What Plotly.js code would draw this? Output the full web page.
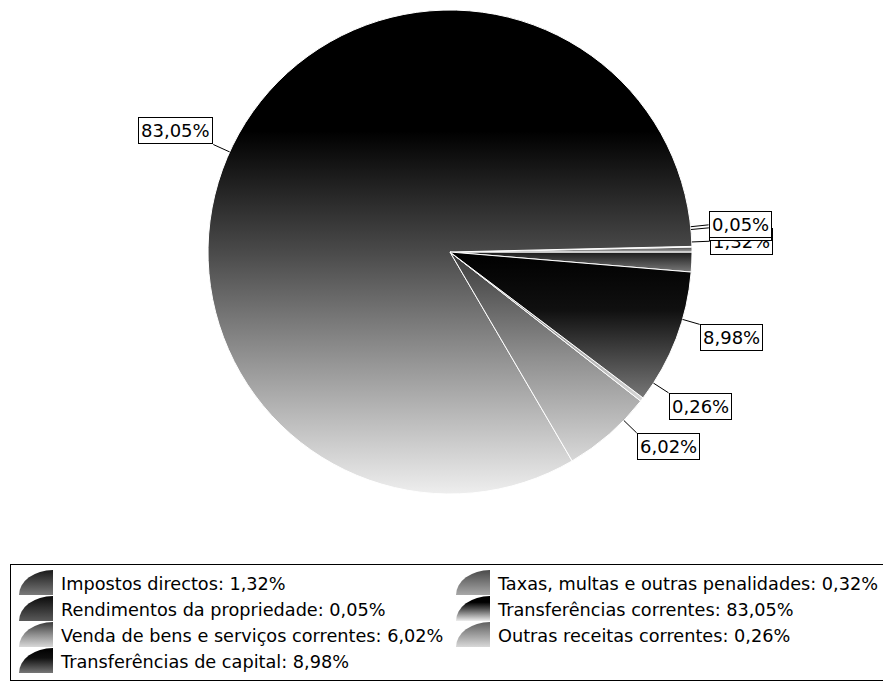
<!DOCTYPE html>
<html><head><meta charset="utf-8">
<script src="https://cdn.plot.ly/plotly-3.0.1.min.js"></script>
<style>html,body{margin:0;padding:0;background:#fff}#chart{width:883px;height:696px}</style>
</head><body><div id="chart"></div>
<script>
// ---- data ----
const categories = [
  'Impostos directos',
  'Taxas, multas e outras penalidades',
  'Rendimentos da propriedade',
  'Transferências correntes',
  'Venda de bens e serviços correntes',
  'Outras receitas correntes',
  'Transferências de capital'
];
const values = [1.32, 0.32, 0.05, 83.05, 6.02, 0.26, 8.98];

// ---- style ----
const W = 883, H = 696;
const CX = 450, CY = 252, R = 242;
const FONT = 'DejaVu Sans, Verdana, sans-serif';
const baseColors = ['#333', '#666', '#222', '#3a3a3a', '#888', '#aaa', '#444'];
const gradStops = [
  [[0,'#1a1a1a'],[1,'#7a7a7a']],
  [[0,'#4a4a4a'],[1,'#a8a8a8']],
  [[0,'#0a0a0a'],[1,'#5a5a5a']],
  [[0,'#000'],[0.25,'#000'],[0.5,'#4a4a4a'],[0.75,'#9c9c9c'],[1,'#eeeeee']],
  [[0,'#3a3a3a'],[0.5,'#8e8e8e'],[1,'#d8d8d8']],
  [[0,'#606060'],[1,'#d8d8d8']],
  [[0,'#000'],[0.4,'#101010'],[1,'#777']]
];

const fmt = v => v.toFixed(2).replace('.', ',') + '%';
const legendLabels = categories.map((c, i) => c + ': ' + fmt(values[i]));

const total = values.reduce((a, b) => a + b, 0);
const annotations = [];
let start = 0;
values.forEach((v, i) => {
  const frac = v / total * 360;
  const mid = (start + frac / 2) * Math.PI / 180;
  start += frac;
  const c = Math.cos(mid), s = Math.sin(mid);
  const px = CX + R * c, py = CY - R * s;
  const d = 18;
  annotations.push({
    x: px / W, y: 1 - py / H, xref: 'paper', yref: 'paper',
    ax: d * c, ay: -d * s,
    xanchor: c >= 0 ? 'left' : 'right',
    yanchor: Math.abs(s) < 0.15 ? 'middle' : (s > 0 ? 'bottom' : 'top'),
    text: fmt(v), showarrow: true, arrowhead: 0, arrowwidth: 1, arrowcolor: '#000', standoff: 0,
    bordercolor: '#000', borderwidth: 1, borderpad: 2, bgcolor: '#fff',
    font: {family: FONT, size: 18, color: '#000'}
  });
});

const trace = {
  type: 'pie',
  labels: legendLabels,
  values: values,
  sort: false,
  direction: 'counterclockwise',
  rotation: 90,
  textinfo: 'none',
  hoverinfo: 'none',
  domain: {x: [(CX - R) / W, (CX + R) / W], y: [1 - (CY + R) / H, 1 - (CY - R) / H]},
  marker: {colors: baseColors, line: {color: '#fff', width: 1}}
};

const layout = {
  width: W, height: H,
  margin: {l: 0, r: 0, t: 0, b: 0, pad: 0, autoexpand: false},
  paper_bgcolor: '#fff',
  showlegend: true,
  legend: {
    orientation: 'h', x: 10 / W, y: 1 - 564 / H, xanchor: 'left', yanchor: 'top',
    itemwidth: 40,
    entrywidth: 382, entrywidthmode: 'pixels',
    bgcolor: '#fff', bordercolor: '#000', borderwidth: 1,
    font: {family: FONT, size: 17.7, color: '#000'}
  },
  annotations: annotations,
  font: {family: FONT}
};

Plotly.newPlot('chart', [trace], layout, {displayModeBar: false, staticPlot: true}).then(applyGradients);

function applyGradients() {
  const ns = 'http://www.w3.org/2000/svg';
  const svg = document.querySelector('#chart .main-svg');
  let defs = svg.querySelector('defs');
  if (!defs) { defs = document.createElementNS(ns, 'defs'); svg.insertBefore(defs, svg.firstChild); }
  gradStops.forEach((stops, i) => {
    const lg = document.createElementNS(ns, 'linearGradient');
    lg.setAttribute('id', 'pg' + i);
    lg.setAttribute('x1', '0'); lg.setAttribute('y1', '0');
    lg.setAttribute('x2', '0'); lg.setAttribute('y2', '1');
    stops.forEach(s => {
      const st = document.createElementNS(ns, 'stop');
      st.setAttribute('offset', s[0]);
      st.setAttribute('stop-color', s[1]);
      lg.appendChild(st);
    });
    defs.appendChild(lg);
  });
  document.querySelectorAll('#chart .pielayer path.surface').forEach((p, k) => {
    const i = (p.__data__ && p.__data__.i !== undefined) ? p.__data__.i : k;
    p.style.fill = 'url(#pg' + i + ')';
  });
  document.querySelectorAll('#chart .legend .traces').forEach((g, k) => {
    const dd = g.__data__;
    const i = (dd && dd[0] && dd[0].i !== undefined) ? dd[0].i : k;
    g.querySelectorAll('.legendpoints path').forEach(p => {
      p.setAttribute('d', 'M17,12H-17A34,25 0 0,1 17,-13Z');
      p.style.fill = 'url(#pg' + i + ')';
      p.style.stroke = 'none';
    });
  });
}
</script>
</body></html>
